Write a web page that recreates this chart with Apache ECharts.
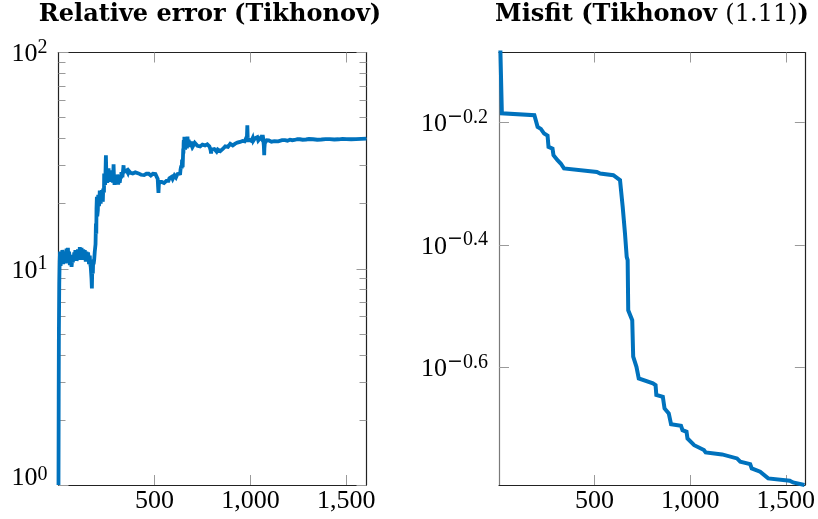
<!DOCTYPE html>
<html>
<head>
<meta charset="utf-8">
<script src="https://cdn.jsdelivr.net/npm/echarts@6/dist/echarts.min.js"></script>
<style>
html,body{margin:0;padding:0;background:#fff;}
#chart{width:818px;height:519px;}
</style>
</head>
<body>
<div id="chart"></div>
<script>
// ---- data ----
// left panel: [iteration, relative error]
const leftSeries = [[0,1.0],[1,2.5],[2,5.0],[4,8.5],[6,10.8],[8,12.0],[9,11.6],[11,10.3],[13,10.4],[15,11.8],[18,10.6],[20,12.2],[22,11.9],[24,10.5],[27,11.8],[29,11.0],[31,10.7],[33,12.0],[35,11.3],[38,10.6],[40,11.0],[42,12.4],[45,12.1],[47,11.0],[49,12.5],[51,11.4],[53,11.2],[55,12.0],[57,11.6],[59,10.4],[61,10.6],[63,11.5],[66,10.9],[68,10.2],[70,10.0],[72,11.2],[75,10.7],[77,11.6],[79,11.0],[82,11.9],[85,11.4],[88,12.2],[91,11.6],[94,10.9],[98,11.2],[101,12.3],[105,12.0],[107,11.0],[109,11.5],[111,12.6],[113,12.7],[115,11.4],[118,11.7],[120,12.5],[122,11.8],[125,11.0],[127,11.2],[129,12.3],[131,12.4],[133,11.3],[135,11.5],[137,12.2],[139,11.6],[142,10.8],[144,11.0],[146,12.0],[148,11.8],[150,10.9],[152,11.2],[154,11.9],[157,11.1],[159,10.5],[161,10.8],[163,11.5],[165,10.6],[168,10.2],[170,9.6],[172,9.0],[174,8.1],[176,10.0],[179,9.5],[181,11.0],[183,10.5],[186,11.0],[189,12.0],[191,11.8],[193,13.0],[195,16.2],[197,14.5],[198,19.0],[200,21.5],[202,17.5],[205,18.6],[207,22.0],[209,21.8],[211,19.5],[213,20.2],[215,23.0],[217,21.5],[220,20.0],[222,22.5],[224,21.0],[226,23.1],[229,22.0],[231,20.4],[233,23.5],[235,24.0],[237,22.5],[238,27.6],[240,25.5],[243,24.4],[245,28.0],[247,33.5],[249,28.5],[252,27.1],[254,25.0],[257,26.0],[259,28.0],[261,29.1],[263,26.0],[265,26.8],[267,28.5],[269,25.2],[271,27.0],[274,27.5],[276,25.5],[278,26.6],[280,28.2],[283,25.0],[285,27.0],[287,30.4],[289,26.5],[292,24.4],[295,27.0],[298,26.0],[301,24.8],[304,25.2],[306,27.2],[309,26.5],[311,24.5],[313,24.0],[315,26.0],[317,26.8],[319,25.0],[321,25.7],[324,27.0],[326,26.2],[328,28.0],[330,27.6],[333,26.5],[335,27.0],[337,28.8],[339,30.1],[341,28.0],[343,27.5],[345,28.6],[347,28.1],[351,27.6],[355,28.5],[358,27.9],[362,27.7],[366,28.4],[370,28.3],[375,27.8],[382,28.1],[387,27.6],[392,27.5],[396,28.0],[400,27.9],[408,27.4],[417,27.6],[424,27.1],[430,27.2],[435,27.7],[440,27.6],[446,27.1],[451,27.2],[458,27.5],[465,27.0],[470,27.5],[476,27.4],[481,27.0],[486,27.3],[492,27.5],[498,27.0],[505,27.4],[512,27.2],[517,26.0],[519,24.0],[521,22.4],[523,24.5],[526,25.2],[532,25.6],[538,25.2],[544,25.7],[550,24.9],[556,25.4],[562,25.5],[567,25.0],[573,25.5],[578,26.2],[582,26.0],[586,26.5],[590,26.6],[595,26.0],[600,26.3],[604,27.0],[608,27.0],[612,26.4],[616,26.7],[620,27.4],[625,27.3],[630,27.0],[634,27.6],[636,28.8],[638,28.5],[640,30.0],[642,29.1],[644,32.0],[645,31.0],[647,29.5],[648,30.0],[650,36.0],[651,34.1],[652,38.0],[653,39.3],[655,36.0],[656,40.8],[658,38.0],[660,35.5],[662,39.5],[663,36.6],[665,40.0],[667,38.5],[669,36.0],[672,40.8],[674,38.5],[676,37.0],[678,39.5],[680,37.9],[682,39.0],[685,36.5],[688,38.5],[691,39.3],[694,37.2],[697,37.8],[700,38.8],[703,37.2],[706,37.9],[710,38.2],[715,37.4],[720,37.9],[724,37.0],[728,36.8],[733,37.6],[738,36.8],[744,37.5],[750,37.5],[757,37.0],[764,37.2],[770,37.8],[775,37.6],[780,37.0],[786,36.8],[790,36.0],[793,35.2],[795,34.1],[798,35.6],[802,35.3],[807,36.0],[812,35.8],[818,35.2],[824,34.8],[830,35.6],[836,35.5],[843,35.0],[850,35.0],[856,35.8],[862,36.0],[869,36.8],[876,37.2],[883,36.6],[889,37.0],[895,37.8],[902,37.9],[908,37.2],[915,37.3],[921,37.9],[928,37.6],[932,38.3],[937,38.0],[942,38.2],[946,38.6],[950,39.2],[955,38.2],[959,39.0],[963,39.5],[967,38.5],[970,38.8],[973,39.4],[975,38.4],[978,39.2],[980,39.0],[982,41.0],[984,46.1],[986,40.5],[987,39.5],[989,38.6],[992,39.6],[995,39.2],[998,39.8],[1001,40.0],[1005,39.0],[1008,39.3],[1012,40.2],[1015,39.0],[1020,39.8],[1024,40.1],[1028,39.4],[1032,40.0],[1036,40.6],[1041,39.2],[1045,39.9],[1050,39.5],[1054,40.5],[1058,40.3],[1061,39.6],[1064,41.5],[1066,40.5],[1068,39.8],[1070,37.0],[1072,33.5],[1073,36.0],[1075,38.0],[1077,38.8],[1079,39.0],[1085,39.3],[1090,38.8],[1096,39.2],[1102,39.0],[1110,38.7],[1118,39.1],[1125,38.9],[1135,39.2],[1145,38.8],[1154,39.0],[1165,39.3],[1180,39.3],[1193,39.1],[1206,39.5],[1218,39.3],[1230,39.4],[1245,39.7],[1258,39.7],[1272,39.5],[1290,39.6],[1305,39.8],[1327,39.7],[1348,39.5],[1370,39.6],[1392,39.8],[1414,39.8],[1437,39.6],[1460,39.7],[1480,39.9],[1501,39.8],[1525,39.7],[1550,39.8],[1578,39.9],[1605,40.0]];

// right panel: iterations and misfit values
const rightIter = [1,15,185,193,202,219,236,254,259,280,285,306,323,340,512,529,598,633,647,659,668,673,676,697,702,719,731,805,819,823,857,866,888,900,952,960,981,986,1021,1072,1081,1167,1176,1245,1262,1314,1322,1366,1408,1417,1521,1538,1598];
const rightMisfit = [1.0,0.6531,0.6486,0.6461,0.6206,0.6159,0.6053,0.6005,0.5757,0.5718,0.5580,0.5476,0.5408,0.5309,0.5240,0.5208,0.5176,0.5080,0.4595,0.4159,0.3807,0.3760,0.3114,0.3000,0.2615,0.2518,0.2410,0.2366,0.2350,0.2265,0.2249,0.2153,0.2113,0.2029,0.2017,0.1984,0.1972,0.1923,0.1875,0.1841,0.1825,0.1811,0.1800,0.1784,0.1762,0.1746,0.1718,0.1697,0.1655,0.1644,0.1640,0.1630,0.1614];

const xTickValues = [500, 1000, 1500];
const leftYExponents = [0, 1, 2];
const rightYExponents = [-0.6, -0.4, -0.2];
const minorMantissas = [2, 3, 4, 5, 6, 7, 8, 9];
const leftTitle = 'Relative error (Tikhonov)';
const rightTitleParts = ['Misfit (Tikhonov ', '(1.11)', ')'];

// ---- layout / style ----
const LINE_COLOR = '#0072BD';
const SPINE = '#222';
const TICK = '#9a9a9a';
const SERIF = "'Liberation Serif', 'Times New Roman', serif";
const TITLE_FONT = "'DejaVu Serif', serif";
const grids = [
  {left: 58.5, top: 52.5, width: 308, height: 432.5},
  {left: 499, top: 52.5, width: 308, height: 432.5}
];

const fmtThousands = v => String(v).replace(/\B(?=(\d{3})+(?!\d))/g, ',');
const ZW = '\u200b';
const fmtExp = v => {
  if (Math.abs(v) < 1e-9) return '{b0|10}{s0|0}{z0|' + ZW + '}';
  if (v < 0) return '{b|10}{m|\u2212}{s|' + String(Math.abs(+v.toFixed(2))) + '}{z|' + ZW + '}';
  return '{b|10}{s|' + String(+v.toFixed(2)) + '}{z|' + ZW + '}';
};
const richExp = {
  b: {fontFamily: SERIF, fontSize: 26, lineHeight: 26, verticalAlign: 'bottom', color: '#000'},
  s: {fontFamily: SERIF, fontSize: 20, lineHeight: 20, verticalAlign: 'top', color: '#000'},
  m: {fontFamily: "'DejaVu Serif', serif", fontSize: 19, lineHeight: 20, verticalAlign: 'top', color: '#000'},
  z: {fontFamily: SERIF, fontSize: 10, lineHeight: 30, verticalAlign: 'top', color: '#000'},
  b0: {fontFamily: SERIF, fontSize: 26, lineHeight: 26, verticalAlign: 'top', color: '#000'},
  s0: {fontFamily: SERIF, fontSize: 20, lineHeight: 14, verticalAlign: 'top', color: '#000'},
  z0: {fontFamily: SERIF, fontSize: 10, lineHeight: 40, verticalAlign: 'top', color: '#000'}
};

function xAxisPair(gi, max) {
  const base = {
    type: 'value', gridIndex: gi, min: 0, max: max,
    splitLine: {show: false},
    axisLine: {show: true, onZero: false, lineStyle: {color: SPINE, width: 1.2}},
    axisTick: {show: true, inside: true, length: 10, customValues: xTickValues, lineStyle: {color: TICK, width: 1}}
  };
  return [
    Object.assign({}, base, {position: 'bottom',
      axisLabel: {show: true, customValues: xTickValues, formatter: fmtThousands, fontFamily: SERIF, fontSize: 26, color: '#000', margin: 3}}),
    Object.assign({}, base, {position: 'top', axisLabel: {show: false}})
  ];
}

function yAxisSet(gi, min, max, majors, minors, leftSpineColor) {
  const common = {type: 'value', gridIndex: gi, min: min, max: max, splitLine: {show: false}};
  const arr = [
    Object.assign({}, common, {position: 'left',
      axisLine: {show: true, onZero: false, lineStyle: {color: leftSpineColor, width: 1.2}},
      axisTick: {show: true, inside: true, length: 10, customValues: majors, lineStyle: {color: TICK, width: 1}},
      axisLabel: {show: true, customValues: majors, formatter: fmtExp, rich: richExp, margin: 11}}),
    Object.assign({}, common, {position: 'right',
      axisLine: {show: true, onZero: false, lineStyle: {color: SPINE, width: 1.2}},
      axisTick: {show: true, inside: true, length: 10, customValues: majors, lineStyle: {color: TICK, width: 1}},
      axisLabel: {show: false}})
  ];
  if (minors && minors.length) {
    ['left', 'right'].forEach(pos => arr.push(Object.assign({}, common, {position: pos,
      axisLine: {show: false, onZero: false},
      axisTick: {show: true, inside: true, length: 7, customValues: minors, lineStyle: {color: TICK, width: 1}},
      axisLabel: {show: false}})));
  }
  return arr;
}

const leftMinors = [];
[0, 1].forEach(d => minorMantissas.forEach(m => leftMinors.push(d + Math.log10(m))));

const xAxes = [].concat(xAxisPair(0, 1605), xAxisPair(1, 1600));
const yAxes = [].concat(
  yAxisSet(0, 0, 2, leftYExponents, leftMinors, SPINE),
  yAxisSet(1, -0.792, -0.0857, rightYExponents, null, '#7a7a7a')
);
// yAxes indices: 0..3 for grid 0 (left, right, minor left, minor right), 4..5 grid 1

const leftData = leftSeries.map(p => [p[0], Math.log10(p[1])]);
const rightData = rightIter.map((x, i) => [x, Math.log10(rightMisfit[i])]);

const chart = echarts.init(document.getElementById('chart'), null, {renderer: 'canvas'});
chart.setOption({
  animation: false,
  backgroundColor: '#fff',
  graphic: [
    {type: 'text', x: 210, y: 3, style: {text: leftTitle, fontFamily: TITLE_FONT, fontWeight: 'bold', fontSize: 24,
      fill: '#000', align: 'center', textAlign: 'center', verticalAlign: 'top', textVerticalAlign: 'top'}},
    {type: 'text', x: 652, y: 3, style: {
      text: '{b|' + rightTitleParts[0] + '}{r|' + rightTitleParts[1] + '}{b|' + rightTitleParts[2] + '}',
      align: 'center', textAlign: 'center', verticalAlign: 'top', textVerticalAlign: 'top', fill: '#000',
      fontFamily: TITLE_FONT, fontSize: 24,
      rich: {
        b: {fontFamily: TITLE_FONT, fontWeight: 'bold', fontSize: 24, fill: '#000'},
        r: {fontFamily: TITLE_FONT, fontWeight: 'normal', fontSize: 24, fill: '#000'}
      }}}
  ],
  grid: grids,
  xAxis: xAxes,
  yAxis: yAxes,
  series: [
    {type: 'line', xAxisIndex: 0, yAxisIndex: 0, data: leftData, showSymbol: false, symbol: 'none',
      clip: true, lineStyle: {color: LINE_COLOR, width: 3.8, join: 'miter', miterLimit: 4}},
    {type: 'line', xAxisIndex: 2, yAxisIndex: 4, data: rightData, showSymbol: false, symbol: 'none',
      clip: true, lineStyle: {color: LINE_COLOR, width: 4, join: 'miter'}}
  ]
});
</script>
</body>
</html>
